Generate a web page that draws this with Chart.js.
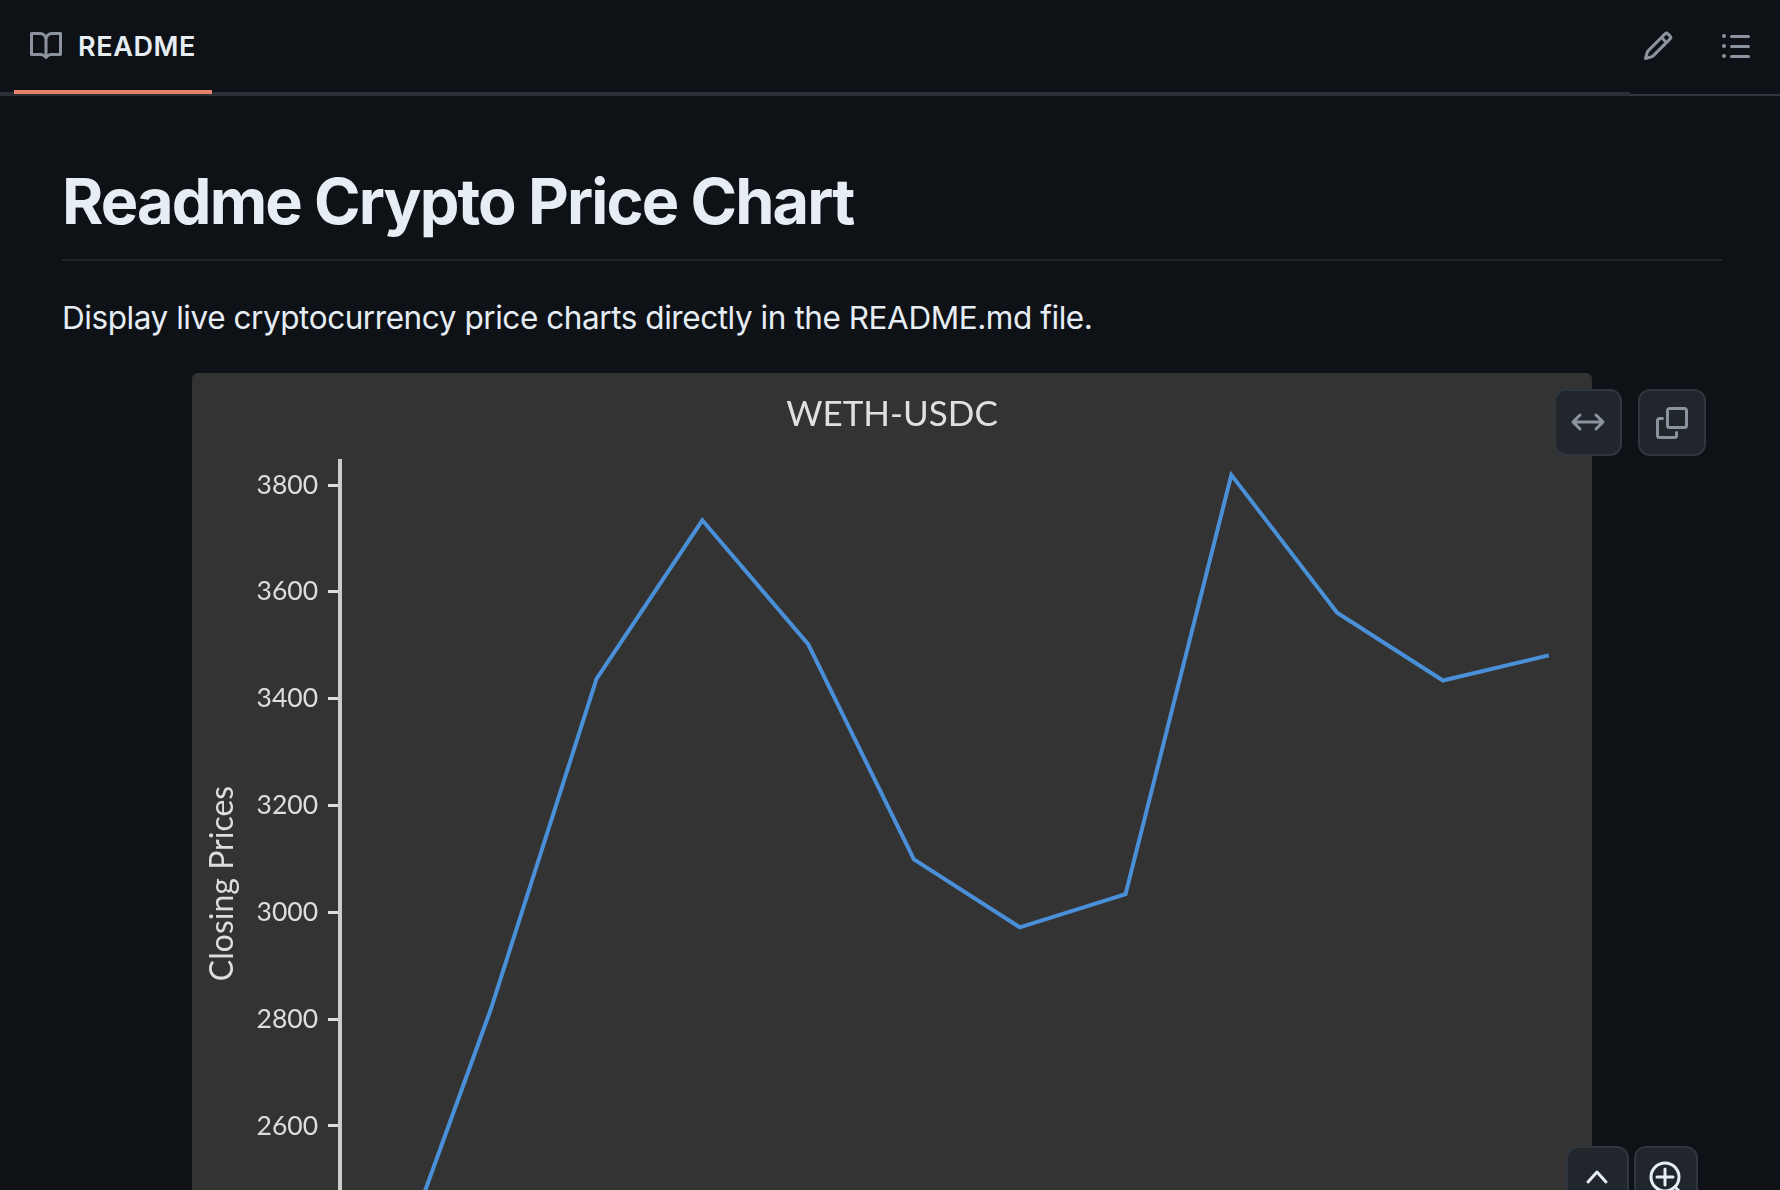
<!DOCTYPE html>
<html lang="en">
<head>
    <meta charset="UTF-8">
    <title>Readme Crypto Price Chart</title>
    <script src="https://cdn.jsdelivr.net/npm/chart.js"></script>
    <style>
        html, body { margin: 0; width: 1780px; height: 1190px; overflow: hidden; background: #0e1217; }
        body { position: relative; font-family: Inter, sans-serif; color: #e6edf3; }
        .abs { position: absolute; }
        .tabline { left: 0; top: 92px; width: 1630px; height: 4px; background: #2b3037; }
        .tabline2 { left: 1630px; top: 94px; width: 150px; height: 2px; background: #30363d; }
        .tabmark { left: 14px; top: 90px; width: 198px; height: 4px; background: #e9806a; }
        .tabtext { left: 78px; top: 31px; font-size: 27px; line-height: 32px; font-weight: 600; letter-spacing: 0.6px; }
        h1 { position: absolute; margin: 0; left: 62px; top: 163px; font-size: 63px; line-height: 76px; font-weight: 700; letter-spacing: -1.85px; white-space: nowrap; }
        .rule { left: 62px; top: 259px; width: 1660px; height: 2px; background: #21262d; }
        p { position: absolute; margin: 0; left: 62px; top: 298px; font-size: 31.5px; line-height: 40px; letter-spacing: -0.44px; white-space: nowrap; }
        .panel { left: 192px; top: 373px; width: 1400px; height: 1000px; background: #333; border-radius: 6px; overflow: hidden; }
        canvas { display: block; }
        .btn { background: #21262d; border: 2px solid #30363d; border-radius: 12px; box-sizing: border-box; }
        svg { position: absolute; display: block; }
    </style>
</head>
<body>
    <div class="abs tabline"></div>
    <div class="abs tabline2"></div>
    <div class="abs tabmark"></div>
    <svg style="left:30px;top:30px" width="32" height="32" viewBox="0 0 16 16" fill="#8b949e"><path d="M0 1.75A.75.75 0 0 1 .75 1h4.253c1.227 0 2.317.59 3 1.501A3.743 3.743 0 0 1 11.006 1h4.245a.75.75 0 0 1 .75.75v10.5a.75.75 0 0 1-.75.75h-4.507a2.25 2.25 0 0 0-1.591.659l-.622.621a.75.75 0 0 1-1.06 0l-.622-.621A2.25 2.25 0 0 0 5.258 13H.75a.75.75 0 0 1-.75-.75Zm7.251 10.324.004-5.073-.002-2.253A2.25 2.25 0 0 0 5.003 2.5H1.5v9h3.757a3.75 3.75 0 0 1 1.994.574ZM8.755 4.75l-.004 7.322a3.752 3.752 0 0 1 1.992-.572H14.5v-9h-3.495a2.25 2.25 0 0 0-2.25 2.25Z"/></svg>
    <div class="abs tabtext">README</div>
    <svg style="left:1642px;top:30px" width="32" height="32" viewBox="0 0 16 16" fill="#8b949e"><path d="M11.013 1.427a1.75 1.75 0 0 1 2.474 0l1.086 1.086a1.75 1.75 0 0 1 0 2.474l-8.61 8.61c-.21.21-.47.364-.756.445l-3.251.93a.75.75 0 0 1-.927-.928l.929-3.25c.081-.286.235-.547.445-.758l8.61-8.61Zm.176 4.823L9.75 4.81l-6.286 6.287a.253.253 0 0 0-.064.108l-.558 1.953 1.953-.558a.253.253 0 0 0 .108-.064Zm1.238-3.763a.25.25 0 0 0-.354 0L10.811 3.75l1.439 1.44 1.263-1.263a.25.25 0 0 0 0-.354Z"/></svg>
    <svg style="left:1720px;top:30px" width="32" height="32" viewBox="0 0 16 16" fill="#8b949e"><path d="M5.75 2.5h8.5a.75.75 0 0 1 0 1.5h-8.5a.75.75 0 0 1 0-1.5Zm0 5h8.5a.75.75 0 0 1 0 1.5h-8.5a.75.75 0 0 1 0-1.5Zm0 5h8.5a.75.75 0 0 1 0 1.5h-8.5a.75.75 0 0 1 0-1.5ZM2 14a1 1 0 1 1 0-2 1 1 0 0 1 0 2Zm1-6a1 1 0 1 1-2 0 1 1 0 0 1 2 0ZM2 4a1 1 0 1 1 0-2 1 1 0 0 1 0 2Z"/></svg>

    <h1>Readme Crypto Price Chart</h1>
    <div class="abs rule"></div>
    <p>Display live cryptocurrency price charts directly in the README.md file.</p>

    <div class="abs panel"><canvas id="priceChart" width="1400" height="980"></canvas></div>

    <div class="abs btn" style="left:1554px;top:389px;width:68px;height:67px"></div>
    <svg style="left:1570px;top:406px" width="36" height="32" viewBox="0 0 36 32" fill="none" stroke="#8b949e" stroke-width="3" stroke-linecap="round" stroke-linejoin="round"><path d="M3 16H33M10 9L3 16L10 23M26 9L33 16L26 23"/></svg>
    <div class="abs btn" style="left:1638px;top:389px;width:68px;height:67px"></div>
    <svg style="left:1656px;top:407px" width="32" height="32" viewBox="0 0 16 16" fill="#8b949e"><path d="M0 6.75C0 5.784.784 5 1.75 5h1.5a.75.75 0 0 1 0 1.5h-1.5a.25.25 0 0 0-.25.25v7.5c0 .138.112.25.25.25h7.5a.25.25 0 0 0 .25-.25v-1.5a.75.75 0 0 1 1.5 0v1.5A1.75 1.75 0 0 1 9.25 16h-7.5A1.75 1.75 0 0 1 0 14.25Z"/><path d="M5 1.75C5 .784 5.784 0 6.75 0h7.5C15.216 0 16 .784 16 1.75v7.5A1.75 1.75 0 0 1 14.25 11h-7.5A1.75 1.75 0 0 1 5 9.25Zm1.75-.25a.25.25 0 0 0-.25.25v7.5c0 .138.112.25.25.25h7.5a.25.25 0 0 0 .25-.25v-7.5a.25.25 0 0 0-.25-.25Z"/></svg>

    <div class="abs btn" style="left:1566px;top:1146px;width:63px;height:80px"></div>
    <svg style="left:1584px;top:1167px" width="26" height="18" viewBox="0 0 26 18" fill="none" stroke="#e6edf3" stroke-width="3" stroke-linecap="round" stroke-linejoin="round"><path d="M4 15L13 5L22 15"/></svg>
    <div class="abs btn" style="left:1634px;top:1146px;width:64px;height:80px"></div>
    <svg style="left:1648px;top:1160px" width="40" height="30" viewBox="0 0 40 30" fill="none" stroke="#e6edf3" stroke-width="3" stroke-linecap="round"><circle cx="17" cy="17" r="14"/><path d="M17 9V25M9 17H25M27 27L34 34"/></svg>

    <script>
        const days = [1, 2, 3, 4, 5, 6, 7, 8, 9, 10, 11, 12];
        const closingPrices = [2271, 2818, 3437, 3734, 3502, 3099, 2972, 3034, 3819, 3561, 3434, 3481];
        const priceTicks = [2400, 2600, 2800, 3000, 3200, 3400, 3600, 3800];

        new Chart(document.getElementById('priceChart').getContext('2d'), {
            type: 'line',
            data: {
                datasets: [{
                    label: 'WETH-USDC',
                    data: days.map((d, i) => ({ x: d, y: closingPrices[i] })),
                    borderColor: '#4a90d9',
                    borderWidth: 4,
                    pointRadius: 0,
                    tension: 0,
                    fill: false
                }]
            },
            options: {
                responsive: false,
                animation: false,
                layout: { padding: { left: 11, right: 11, bottom: 47 } },
                plugins: {
                    legend: { display: false },
                    tooltip: { enabled: false },
                    title: {
                        display: true,
                        text: 'WETH-USDC',
                        color: '#e0e0e0',
                        font: { family: 'Lato', size: 35, weight: 'normal', lineHeight: 1.2 },
                        padding: { top: 21, bottom: 25 }
                    }
                },
                scales: {
                    x: {
                        type: 'linear',
                        display: false,
                        min: 0.5755,
                        max: 12.305
                    },
                    y: {
                        min: 2263,
                        max: 3845,
                        afterFit: scale => { scale.width = 137; },
                        afterBuildTicks: scale => { scale.ticks = priceTicks.map(value => ({ value })); },
                        border: { color: '#cccccc', width: 4 },
                        grid: { drawOnChartArea: false, color: '#dddddd', tickLength: 12, tickWidth: 3 },
                        ticks: {
                            color: '#dddddd',
                            padding: 10,
                            font: { family: 'Lato', size: 26.5 },
                            callback: value => String(value)
                        },
                        title: {
                            display: true,
                            text: 'Closing Prices',
                            color: '#dddddd',
                            font: { family: 'Lato', size: 32, lineHeight: 1.2 },
                            padding: 0
                        }
                    }
                }
            }
        });
    </script>
</body>
</html>
